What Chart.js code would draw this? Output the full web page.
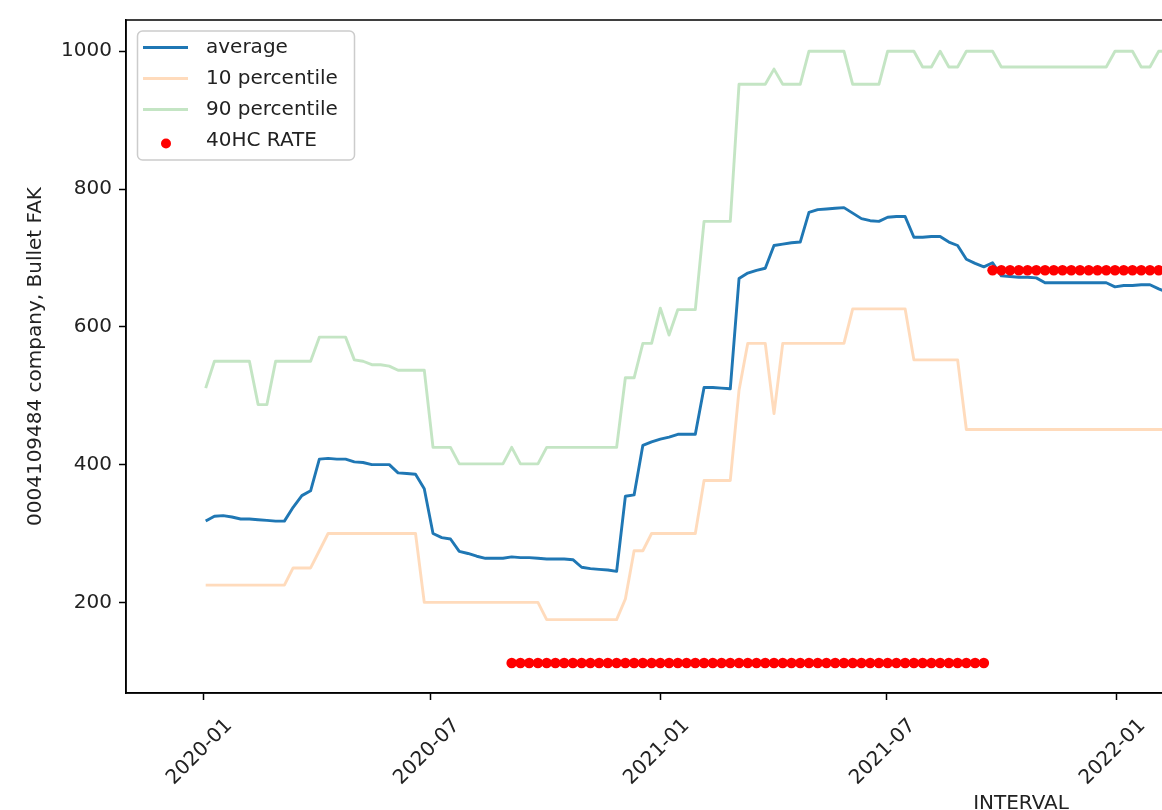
<!DOCTYPE html>
<html>
<head>
<meta charset="utf-8">
<script src="https://cdn.jsdelivr.net/npm/chart.js@4.4.0/dist/chart.umd.min.js"></script>
<style>
html,body{margin:0;padding:0;width:1162px;height:810px;overflow:hidden;background:#fff;}
#wrap{position:absolute;left:0;top:0;width:1940px;height:840px;}
</style>
</head>
<body>
<div id="wrap"><canvas id="c" width="1940" height="840"></canvas></div>
<script>
// ---- data (weekly observations) ----
const weeks = [
 '2020-01-03','2020-01-10','2020-01-17','2020-01-24','2020-01-31',
 '2020-02-07','2020-02-14','2020-02-21','2020-02-28',
 '2020-03-06','2020-03-13','2020-03-20','2020-03-27',
 '2020-04-03','2020-04-10','2020-04-17','2020-04-24',
 '2020-05-01','2020-05-08','2020-05-15','2020-05-22','2020-05-29',
 '2020-06-05','2020-06-12','2020-06-19','2020-06-26',
 '2020-07-03','2020-07-10','2020-07-17','2020-07-24','2020-07-31',
 '2020-08-07','2020-08-14','2020-08-21','2020-08-28',
 '2020-09-04','2020-09-11','2020-09-18','2020-09-25',
 '2020-10-02','2020-10-09','2020-10-16','2020-10-23','2020-10-30',
 '2020-11-06','2020-11-13','2020-11-20','2020-11-27',
 '2020-12-04','2020-12-11','2020-12-18','2020-12-25',
 '2021-01-01','2021-01-08','2021-01-15','2021-01-22','2021-01-29',
 '2021-02-05','2021-02-12','2021-02-19','2021-02-26',
 '2021-03-05','2021-03-12','2021-03-19','2021-03-26',
 '2021-04-02','2021-04-09','2021-04-16','2021-04-23','2021-04-30',
 '2021-05-07','2021-05-14','2021-05-21','2021-05-28',
 '2021-06-04','2021-06-11','2021-06-18','2021-06-25',
 '2021-07-02','2021-07-09','2021-07-16','2021-07-23','2021-07-30',
 '2021-08-06','2021-08-13','2021-08-20','2021-08-27',
 '2021-09-03','2021-09-10','2021-09-17','2021-09-24',
 '2021-10-01','2021-10-08','2021-10-15','2021-10-22','2021-10-29',
 '2021-11-05','2021-11-12','2021-11-19','2021-11-26',
 '2021-12-03','2021-12-10','2021-12-17','2021-12-24','2021-12-31',
 '2022-01-07','2022-01-14','2022-01-21','2022-01-28',
 '2022-02-04','2022-02-11'
];

const average = [
 318,325,326,324,321,321,320,319,318,318,
 338,355,362,408,409,408,408,404,403,400,
 400,400,388,387,386,365,300,294,292,274,
 271,267,264,264,264,266,265,265,264,263,
 263,263,262,251,249,248,247,245,354,356,
 428,433,437,440,444,444,444,512,512,511,
 510,670,678,682,685,718,720,722,723,766,
 770,771,772,773,765,757,754,753,759,760,
 760,730,730,731,731,723,718,698,692,687,
 693,674,673,672,672,671,664,664,664,664,
 664,664,664,664,658,660,660,661,661,655,
 650
];

const p10 = [
 225,225,225,225,225,225,225,225,225,225,
 250,250,250,275,300,300,300,300,300,300,
 300,300,300,300,300,200,200,200,200,200,
 200,200,200,200,200,200,200,200,200,175,
 175,175,175,175,175,175,175,175,205,275,
 275,300,300,300,300,300,300,377,377,377,
 377,508,576,576,576,474,576,576,576,576,
 576,576,576,576,626,626,626,626,626,626,
 626,552,552,552,552,552,552,451,451,451,
 451,451,451,451,451,451,451,451,451,451,
 451,451,451,451,451,451,451,451,451,451,
 451
];

const p90 = [
 511,550,550,550,550,550,487,487,550,550,
 550,550,550,585,585,585,585,552,550,545,
 545,543,537,537,537,537,425,425,425,401,
 401,401,401,401,401,425,401,401,401,425,
 425,425,425,425,425,425,425,425,526,526,
 576,576,627,588,625,625,625,753,753,753,
 753,952,952,952,952,974,952,952,952,1000,
 1000,1000,1000,1000,952,952,952,952,1000,1000,
 1000,1000,977,977,1000,977,977,1000,1000,1000,
 1000,977,977,977,977,977,977,977,977,977,
 977,977,977,977,1000,1000,1000,977,977,1000,
 1000
];

const rate40HC = [
 null,null,null,null,null,null,null,null,null,null,
 null,null,null,null,null,null,null,null,null,null,
 null,null,null,null,null,null,null,null,null,null,
 null,null,null,null,null,112,112,112,112,112,
 112,112,112,112,112,112,112,112,112,112,
 112,112,112,112,112,112,112,112,112,112,
 112,112,112,112,112,112,112,112,112,112,
 112,112,112,112,112,112,112,112,112,112,
 112,112,112,112,112,112,112,112,112,112,
 682,682,682,682,682,682,682,682,682,682,
 682,682,682,682,682,682,682,682,682,682,
 682
];

const seriesNames = ['average', '10 percentile', '90 percentile', '40HC RATE'];
const xTickLabels = ['2020-01','2020-07','2021-01','2021-07','2022-01','2022-07','2023-01','2023-07'];
const yTickValues = [200, 400, 600, 800, 1000];
const yAxisTitle = '0004109484 company, Bullet FAK';
const xAxisTitle = 'INTERVAL';

// ---- helpers ----
const DAY = 86400000;
const T0 = Date.parse('2020-01-01');
const dayOf = s => (Date.parse(s) - T0) / DAY;
const toPoints = arr => weeks.map((w, i) => ({x: dayOf(w), y: arr[i]})).filter(p => p.y !== null);
const xTickDays = xTickLabels.map(l => dayOf(l + '-01'));

const FONT = "'DejaVu Sans', sans-serif";
const TXT = '#222222';
Chart.defaults.font.family = FONT;
Chart.defaults.font.size = 20;
Chart.defaults.color = TXT;

const framePlugin = {
  id: 'frame',
  afterDatasetsDraw(chart) {
    const {ctx, chartArea: a} = chart;
    ctx.save();
    ctx.strokeStyle = '#000';
    ctx.lineWidth = 1.5;
    ctx.strokeRect(a.left, a.top, a.right - a.left, a.bottom - a.top);
    ctx.restore();
  }
};

const legendPlugin = {
  id: 'mplLegend',
  afterDraw(chart) {
    const ctx = chart.ctx;
    const x = 137.5, y = 31, w = 217, h = 129, r = 5;
    ctx.save();
    ctx.beginPath();
    ctx.moveTo(x + r, y);
    ctx.lineTo(x + w - r, y);
    ctx.arcTo(x + w, y, x + w, y + r, r);
    ctx.lineTo(x + w, y + h - r);
    ctx.arcTo(x + w, y + h, x + w - r, y + h, r);
    ctx.lineTo(x + r, y + h);
    ctx.arcTo(x, y + h, x, y + h - r, r);
    ctx.lineTo(x, y + r);
    ctx.arcTo(x, y, x + r, y, r);
    ctx.closePath();
    ctx.fillStyle = 'rgba(255,255,255,0.8)';
    ctx.fill();
    ctx.strokeStyle = '#cccccc';
    ctx.lineWidth = 1.5;
    ctx.stroke();
    ctx.font = '20px ' + FONT;
    ctx.textBaseline = 'middle';
    ctx.textAlign = 'left';
    chart.data.datasets.forEach((ds, i) => {
      const cy = 47.5 + i * 31;
      if (ds.showLine === false) {
        ctx.beginPath();
        ctx.arc(166, cy + 3, 5, 0, Math.PI * 2);
        ctx.fillStyle = ds.pointBackgroundColor;
        ctx.fill();
      } else {
        ctx.beginPath();
        ctx.moveTo(143, cy);
        ctx.lineTo(188, cy);
        ctx.strokeStyle = ds.borderColor;
        ctx.lineWidth = ds.borderWidth;
        ctx.stroke();
      }
      ctx.fillStyle = TXT;
      ctx.fillText(ds.label, 206, cy);
    });
    ctx.restore();
  }
};

const axisGrid = {drawOnChartArea: false, drawTicks: true, tickLength: 7, tickColor: '#000', tickWidth: 1.5};
const axisBorder = {display: true, color: '#000', width: 1.5};

new Chart(document.getElementById('c'), {
  type: 'line',
  data: {
    datasets: [
      {label: seriesNames[0], data: toPoints(average), borderColor: '#1f77b4', borderWidth: 2.9,
       pointRadius: 0, tension: 0, borderJoinStyle: 'round', order: 1},
      {label: seriesNames[1], data: toPoints(p10), borderColor: 'rgba(255,127,14,0.28)', borderWidth: 2.9,
       pointRadius: 0, tension: 0, borderJoinStyle: 'round', order: 2},
      {label: seriesNames[2], data: toPoints(p90), borderColor: 'rgba(44,160,44,0.28)', borderWidth: 2.9,
       pointRadius: 0, tension: 0, borderJoinStyle: 'round', order: 3},
      {label: seriesNames[3], data: toPoints(rate40HC), showLine: false, pointRadius: 5.3,
       pointBackgroundColor: '#ff0000', pointBorderColor: '#ff0000', pointBorderWidth: 0,
       borderColor: '#ff0000', backgroundColor: '#ff0000', order: 0}
    ]
  },
  options: {
    responsive: false,
    animation: false,
    devicePixelRatio: 1,
    events: [],
    layout: {padding: {left: 0, top: 20, right: 24, bottom: 0}},
    plugins: {legend: {display: false}, tooltip: {enabled: false}},
    scales: {
      x: {
        type: 'linear',
        min: -61.8,
        max: 1371.3,
        afterBuildTicks: s => { s.ticks = xTickDays.map(v => ({value: v})); },
        afterFit: s => { s.height = 147; },
        grid: axisGrid,
        border: axisBorder,
        ticks: {
          autoSkip: false, minRotation: 45, maxRotation: 45, padding: 14, labelOffset: 26,
          color: TXT, font: {size: 20},
          callback: (v, i) => xTickLabels[i]
        },
        title: {display: true, text: xAxisTitle, color: TXT, font: {size: 20}, padding: {top: 0, bottom: 24}}
      },
      y: {
        type: 'linear',
        min: 68.5,
        max: 1045.3,
        afterBuildTicks: s => { s.ticks = yTickValues.map(v => ({value: v})); },
        afterFit: s => { s.width = 126; },
        grid: axisGrid,
        border: axisBorder,
        ticks: {padding: 7, color: TXT, font: {size: 20}, callback: v => String(v)},
        title: {display: true, text: yAxisTitle, color: TXT, font: {size: 20}, padding: {top: 24, bottom: 0}}
      }
    }
  },
  plugins: [framePlugin, legendPlugin]
});
</script>
</body>
</html>
